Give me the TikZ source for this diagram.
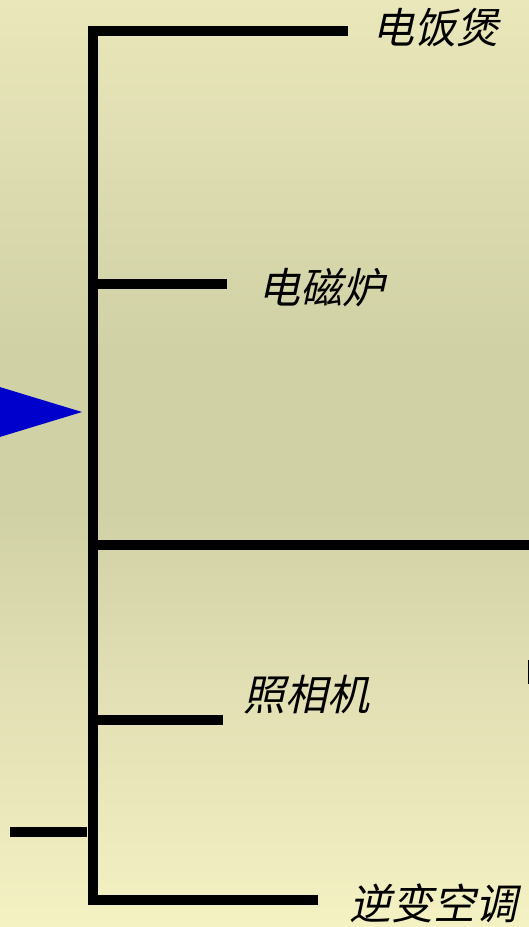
\documentclass[tikz,border=0pt]{standalone}
\usepackage{fontspec}
\newfontfamily\cjk{Noto Sans CJK SC}
\definecolor{bgtop}{HTML}{EAE8BA}
\definecolor{bgup}{HTML}{DCDBB0}
\definecolor{bgmid}{HTML}{D1D1A6}
\definecolor{bglow}{HTML}{E2E0B4}
\definecolor{bgbot}{HTML}{F4F1C3}
\definecolor{tri}{HTML}{0000CC}
\pgfdeclareverticalshading{bgv}{100bp}{color(0bp)=(bgbot); color(25bp)=(bgbot); color(37.5bp)=(bglow); color(47.5bp)=(bgmid); color(56bp)=(bgmid); color(65bp)=(bgup); color(75bp)=(bgtop); color(100bp)=(bgtop)}
\begin{document}
\begin{tikzpicture}[x=1pt,y=-1pt,
  bar/.style={line width=10pt,black},
  lbl/.style={font=\cjk\fontsize{42}{42}\selectfont, xslant=0.22, inner sep=0pt}]
\useasboundingbox (0,0) rectangle (529,927);
\begin{scope}
\clip (0,0) rectangle (529,927);
\shade[shading=bgv] (0,0) rectangle (529,927);
% blue pointer
\fill[tri] (-20,381) -- (82,412) -- (-20,443) -- cycle;
% spine and branches
\coordinate (s0) at (93,26);
\coordinate (s5) at (93,905);
\coordinate (b1) at (93,31);  \coordinate (e1) at (348,31);
\coordinate (b2) at (93,284); \coordinate (e2) at (227,284);
\coordinate (b3) at (93,545); \coordinate (e3) at (535,545);
\coordinate (b4) at (93,720); \coordinate (e4) at (223,720);
\coordinate (b5) at (93,900); \coordinate (e5) at (318,900);
\coordinate (l1) at (10,832); \coordinate (l2) at (87,832);
\draw[bar] (s0) -- (s5);
\draw[bar] (b1) -- (e1);
\draw[bar] (b2) -- (e2);
\draw[bar] (b3) -- (e3);
\draw[bar] (b4) -- (e4);
\draw[bar] (b5) -- (e5);
\draw[bar] (l1) -- (l2);
\fill[black] (527.5,660) rectangle (529,684);
\end{scope}
\node[lbl] (t1) at (439,28) {电饭煲};
\node[lbl] (t2) at (325,288) {电磁炉};
\node[lbl] (t3) at (310,695) {照相机};
\node[lbl] (t4) at (437,903) {逆变空调};
\end{tikzpicture}
\end{document}
